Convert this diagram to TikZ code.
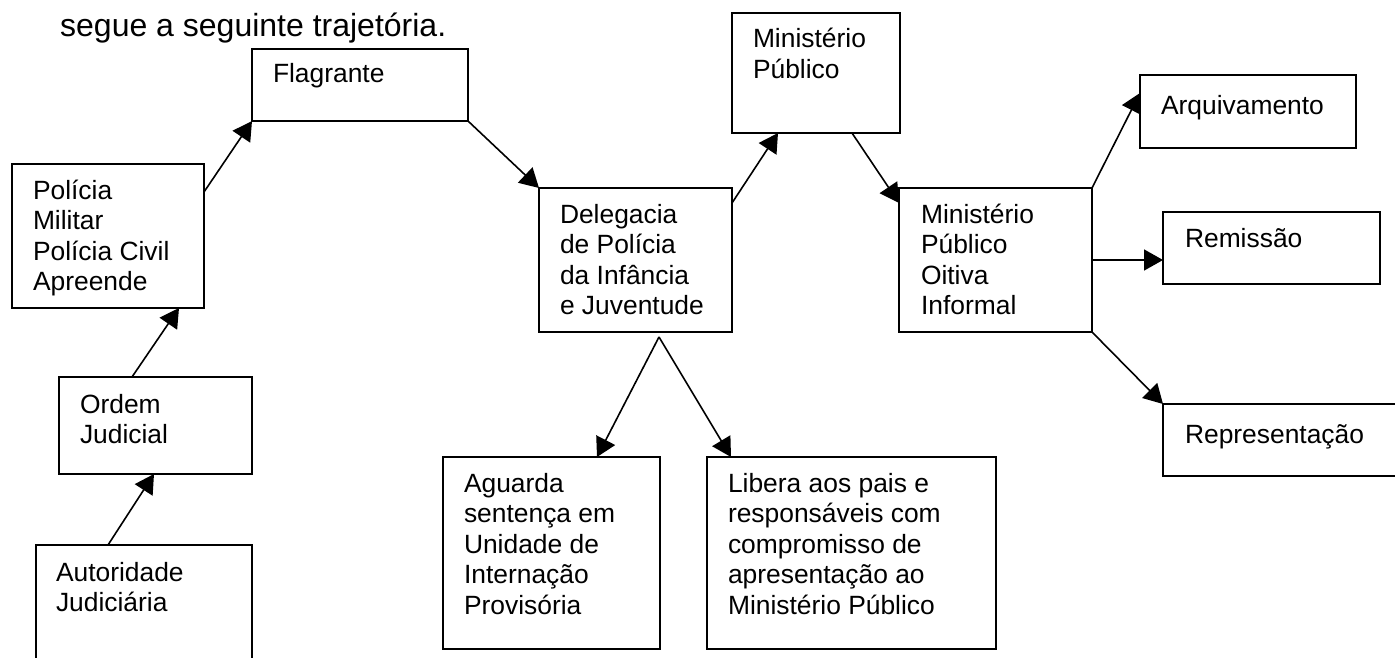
\documentclass[tikz,border=0pt]{standalone}
\usepackage{fontspec}
\setmainfont{Liberation Sans}
\usetikzlibrary{arrows.meta,calc}
\newcommand\boxfont{\fontsize{26.4}{30.6}\selectfont}
\newcommand\lns[1]{\begin{tabular}[t]{@{}l@{}}#1\end{tabular}}
\tikzset{
  box/.style={draw, line width=2pt, inner sep=0pt, outer sep=0pt, anchor=north west},
  txt/.style={anchor=base west, inner sep=0pt, outer sep=0pt, font=\boxfont},
  conn/.style={line width=1.6pt, -{Triangle[length=19pt,width=21pt]}},
}
\begin{document}
\begin{tikzpicture}[x=1pt,y=-1pt]
\path[use as bounding box, clip] (0,0) rectangle (1395,658);
\fill[white] (0,0) rectangle (1395,658);
% title
\node[anchor=base west, inner sep=0pt, font=\fontsize{32}{38}\selectfont] (title) at (60,37) {segue a seguinte trajetória.};
% boxes
\node[box, minimum width=192pt, minimum height=144pt] (pol) at (12,164) {};
\node[box, minimum width=216pt, minimum height=72pt] (fla) at (252,49) {};
\node[box, minimum width=193pt, minimum height=97pt] (ord) at (59,377) {};
\node[box, minimum width=216pt, minimum height=160pt] (aut) at (36,545) {};
\node[box, minimum width=193pt, minimum height=144pt] (del) at (539,188) {};
\node[box, minimum width=168pt, minimum height=120pt] (mp) at (732,13) {};
\node[box, minimum width=193pt, minimum height=144pt] (mpoi) at (899,188) {};
\node[box, minimum width=216pt, minimum height=73pt] (arq) at (1140,75) {};
\node[box, minimum width=217pt, minimum height=72pt] (rem) at (1163,212) {};
\node[box, minimum width=260pt, minimum height=72pt] (rep) at (1163,404) {};
\node[box, minimum width=217pt, minimum height=192pt] (agu) at (443,457) {};
\node[box, minimum width=289pt, minimum height=192pt] (lib) at (707,457) {};
% texts
\node[txt] (pol-t) at (33,199) {\lns{Polícia\\Militar\\Polícia Civil\\Apreende}};
\node[txt] (fla-t) at (273,83) {\lns{Flagrante}};
\node[txt] (ord-t) at (80,413) {\lns{Ordem\\Judicial}};
\node[txt] (aut-t) at (56,581) {\lns{Autoridade\\Judiciária}};
\node[txt] (del-t) at (560,223) {\lns{Delegacia\\de Polícia\\da Infância\\e Juventude}};
\node[txt] (mp-t) at (753,48) {\lns{Ministério\\Público}};
\node[txt] (mpoi-t) at (921,223) {\lns{Ministério\\Público\\Oitiva\\Informal}};
\node[txt] (arq-t) at (1161,115) {\lns{Arquivamento}};
\node[txt] (rem-t) at (1185,247) {\lns{Remissão}};
\node[txt] (rep-t) at (1185,443) {\lns{Representação}};
\node[txt] (agu-t) at (464,492) {\lns{Aguarda\\sentença em\\Unidade de\\Internação\\Provisória}};
\node[txt] (lib-t) at (728,492) {\lns{Libera aos pais e\\responsáveis com\\compromisso de\\apresentação ao\\Ministério Público}};
% connectors
\draw[conn] ($(aut.north west)+(72,0)$) -- ($(ord.south west)+(95,0)$);
\draw[conn] ($(ord.north west)+(73,0)$) -- ($(pol.south west)+(167,0)$);
\draw[conn] ($(pol.north east)+(0,28)$) -- (fla.south west);
\draw[conn] (fla.south east) -- (del.north west);
\draw[conn] ($(del.north east)+(0,15)$) -- ($(mp.south west)+(46,0)$);
\draw[conn] ($(mp.south west)+(120,0)$) -- ($(mpoi.north west)+(0,15)$);
\coordinate (split) at ($(del.south west)+(120,5)$);
\draw[conn] (split) -- ($(agu.north west)+(154,0)$);
\draw[conn] (split) -- ($(lib.north west)+(24,0)$);
\draw[conn] (mpoi.north east) -- ($(arq.north west)+(0,18)$);
\draw[conn] ($(mpoi.north east)+(0,72)$) -- ($(rem.north west)+(0,48)$);
\draw[conn] (mpoi.south east) -- (rep.north west);
\end{tikzpicture}
\end{document}
